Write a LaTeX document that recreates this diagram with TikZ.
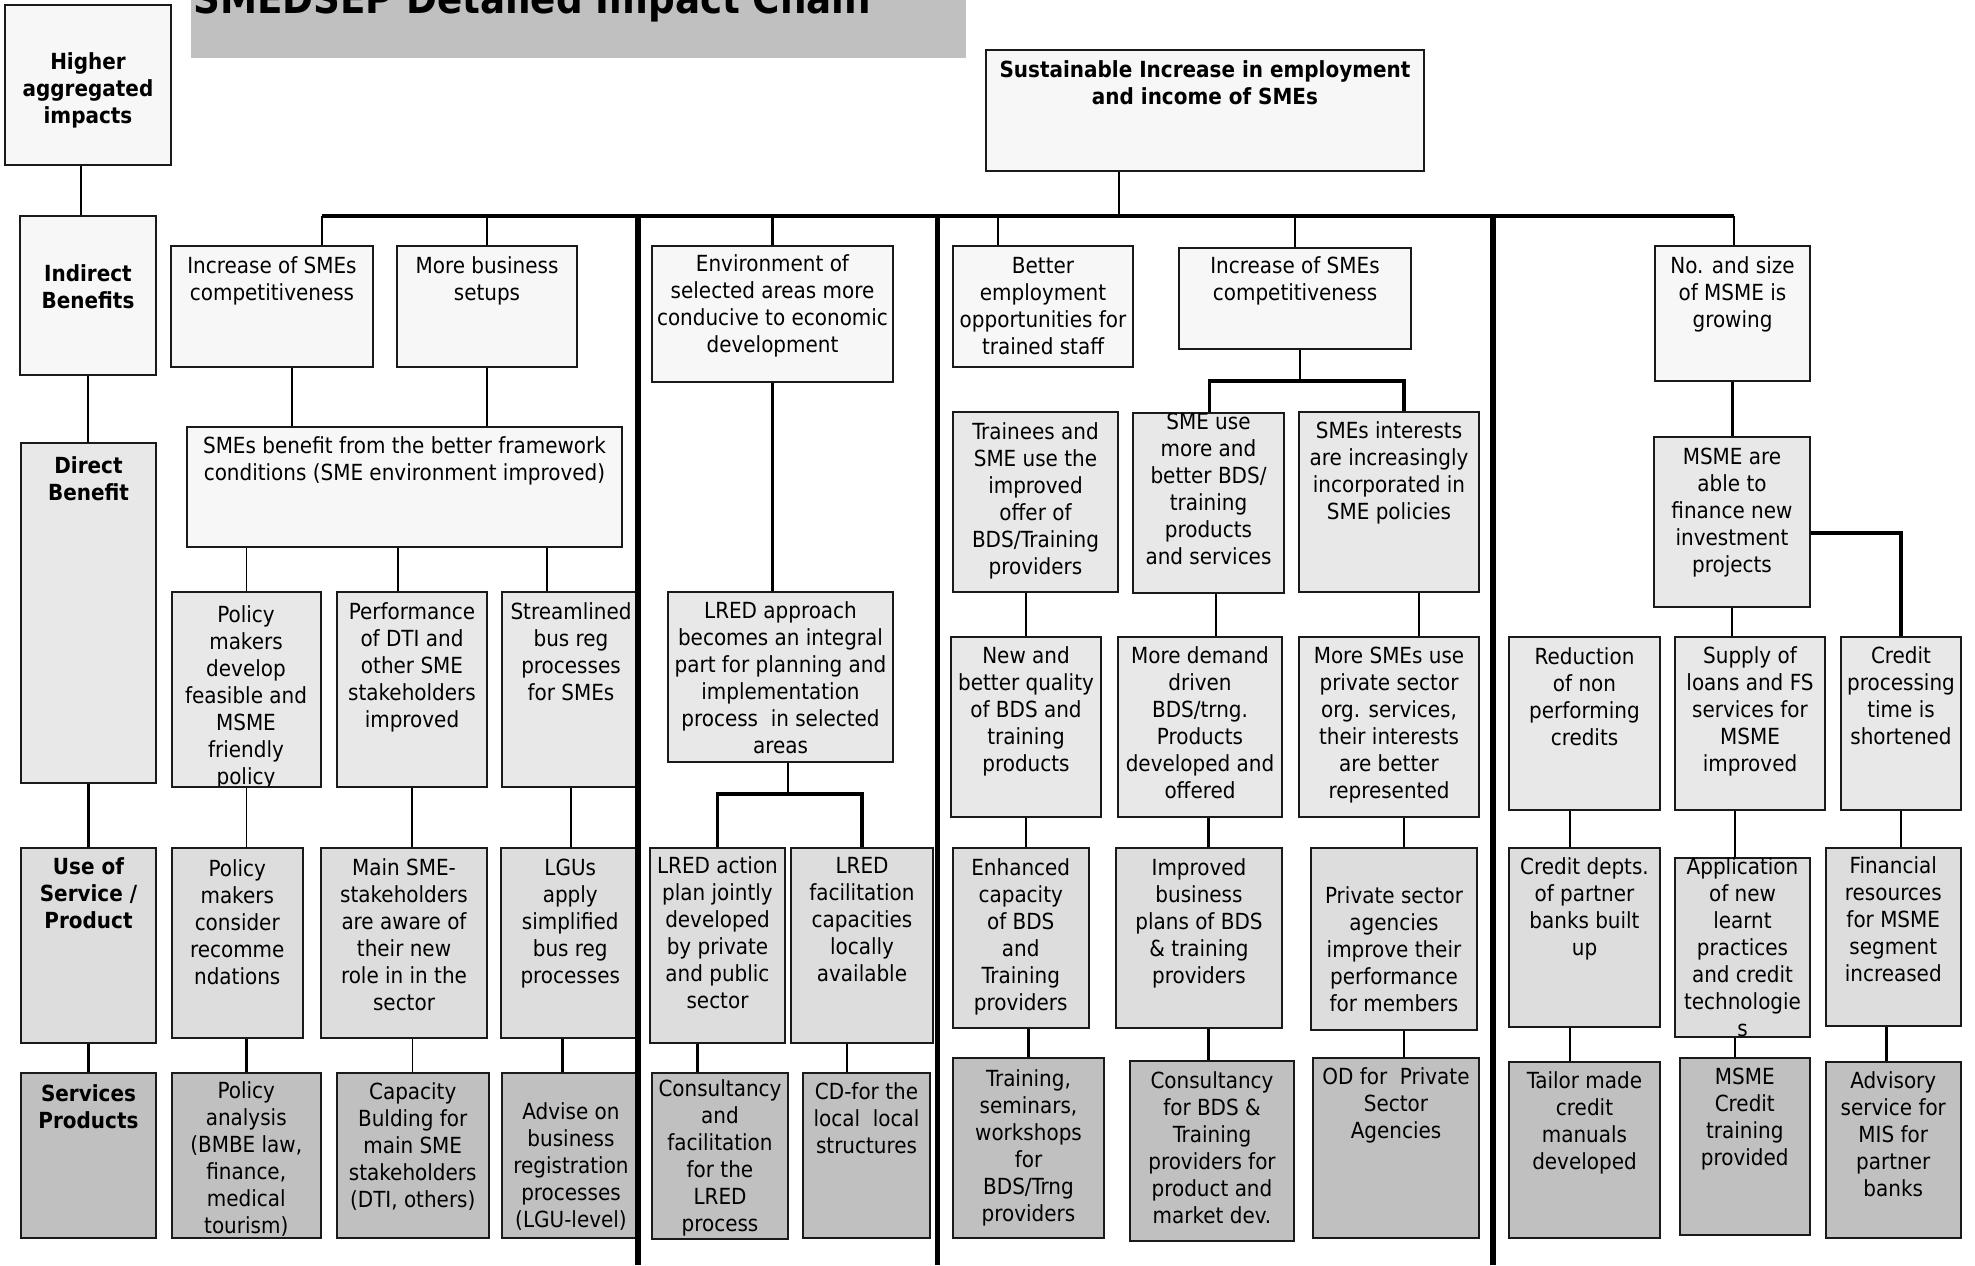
\documentclass[tikz,border=0pt]{standalone}
\usepackage{fontspec}
\setmainfont{DejaVu Sans Condensed}[BoldFont={DejaVu Sans Condensed Bold}]
\usetikzlibrary{fit,backgrounds}

\definecolor{lvA}{HTML}{F7F7F7}
\definecolor{lvB}{HTML}{E8E8E8}
\definecolor{lvC}{HTML}{DDDDDD}
\definecolor{lvD}{HTML}{C0C0C0}
\definecolor{edge}{HTML}{1A1A1A}

\newcommand{\fs}{\fontsize{11.1}{13.5}\selectfont}

% box with top-aligned centred text: name, fill, x1, y1, x2, y2, first-line y, text
\newcommand{\cbox}[8]{%
  \node[box, fill=#2, fit={(#3,#4) (#5,#6)}] (#1) {};
  \node[txt] (#1t) at ({(#3+#5)/2},{#7-10.5}) {#8};}
\newcommand{\labbox}[8]{%
  \node[box, fill=#2, fit={(#3,#4) (#5,#6)}] (#1) {};
  \node[txt, font=\fs\bfseries] (#1t) at ({(#3+#5)/2},{#7-10.5}) {#8};}

\begin{document}
\begin{tikzpicture}[x=0.5pt, y=-0.5pt,
  box/.style={draw=edge, line width=1pt, inner sep=0pt, outer sep=0pt, rectangle},
  txt/.style={anchor=north, align=center, inner sep=0pt, font=\fs, execute at begin node=\strut},
  thk/.style={line width=1.4pt, black},
  thn/.style={line width=0.7pt, black},
  bus/.style={line width=1.7pt, black},
  sep/.style={line width=2.9pt, black}]

\useasboundingbox (0,0) rectangle (1975,1265);
\begin{scope}[on background layer]
  \fill[white] (0,0) rectangle (1975,1265);
\end{scope}

% ---------- title bar ----------
\node[fill=lvD, inner sep=0pt, fit={(191,0) (966,58)}] (ttlbar) {};
\node[anchor=base west, inner sep=0pt, font=\fontsize{20.7}{25}\selectfont\bfseries] (ttl) at (193,13) {SMEDSEP Detailed Impact Chain};

% ---------- level labels ----------
\labbox{hi}{lvA}{5}{5}{171}{165}{63}{Higher\\aggregated\\impacts}
\labbox{ind}{lvA}{20}{216}{156}{375}{275}{Indirect\\Benefits}
\labbox{dir}{lvB}{21}{443}{156}{783}{467}{Direct\\Benefit}
\labbox{use}{lvC}{21}{848}{156}{1043}{868}{Use of\\Service /\\Product}
\labbox{srv}{lvD}{21}{1073}{156}{1238}{1095}{Services\\Products}

% ---------- overall impact ----------
\labbox{sus}{lvA}{986}{50}{1424}{171}{71}{Sustainable Increase in employment\\and income of SMEs}

% ---------- column 1: framework conditions ----------
\cbox{a1}{lvA}{171}{246}{373}{367}{267}{Increase of SMEs\\competitiveness}
\cbox{a2}{lvA}{397}{246}{577}{367}{267}{More business\\setups}
\cbox{b1}{lvA}{187}{427}{622}{547}{447}{SMEs benefit from the better framework\\conditions (SME environment improved)}
\node[box, fill=lvB, fit={(171.5,592) (321,787)}] (c1) {};
\begin{scope}
  \clip (171.5,592) rectangle (321,785);
  \node[txt] (c1t) at (246,605.5) {Policy\\makers\\develop\\feasible and\\MSME\\friendly\\policy};
\end{scope}
\cbox{c2}{lvB}{337}{592}{487}{787}{613}{Performance\\of DTI and\\other SME\\stakeholders\\improved}
\cbox{c3}{lvB}{502}{592}{640}{787}{613}{Streamlined\\bus reg\\processes\\for SMEs}
\cbox{d1}{lvC}{171.5}{848}{303}{1038}{870}{Policy\\makers\\consider\\recomme\\ndations}
\cbox{d2}{lvC}{321}{848}{487}{1038}{869}{Main SME-\\stakeholders\\are aware of\\their new\\role in in the\\sector}
\cbox{d3}{lvC}{500.5}{848}{640}{1038}{869}{LGUs\\apply\\simplified\\bus reg\\processes}
\cbox{e1}{lvD}{171.5}{1073}{321}{1238}{1092}{Policy\\analysis\\(BMBE law,\\finance,\\medical\\tourism)}
\cbox{e2}{lvD}{337}{1073}{488.5}{1238}{1093}{Capacity\\Bulding for\\main SME\\stakeholders\\(DTI, others)}
\cbox{e3}{lvD}{502}{1073}{640}{1238}{1113}{Advise on\\business\\registration\\processes\\(LGU-level)}

% ---------- column 2: LRED ----------
\cbox{f1}{lvA}{652}{246}{893}{382}{265}{Environment of\\selected areas more\\conducive to economic\\development}
\cbox{g1}{lvB}{668}{592}{893}{762}{612}{LRED approach\\becomes an integral\\part for planning and\\implementation\\process\ \ in selected\\areas}
\cbox{h1}{lvC}{650}{848}{785}{1043}{867}{LRED action\\plan jointly\\developed\\by private\\and public\\sector}
\cbox{h2}{lvC}{791}{848}{933}{1043}{867}{LRED\\facilitation\\capacities\\locally\\available}
\cbox{i1}{lvD}{652}{1073}{788}{1239}{1090}{Consultancy\\and\\facilitation\\for the\\LRED\\process}
\cbox{i2}{lvD}{803}{1073}{930}{1238}{1093}{CD-for the\\local\ \ local\\structures}

% ---------- column 3: BDS and training ----------
\cbox{j1}{lvA}{953}{246}{1133}{367}{267}{Better\\employment\\opportunities for\\trained staff}
\cbox{j2}{lvA}{1179}{248}{1411}{349}{267}{Increase of SMEs\\competitiveness}
\cbox{k1}{lvB}{953}{412}{1118}{592}{433}{Trainees and\\SME use the\\improved\\offer of\\BDS/Training\\providers}
\cbox{k2}{lvB}{1133}{413}{1284}{593}{423}{SME use\\more and\\better BDS/\\training\\products\\and services}
\cbox{k3}{lvB}{1299}{412}{1479}{592}{432}{SMEs interests\\are increasingly\\incorporated in\\SME policies}
\cbox{l1}{lvB}{951}{637}{1101}{817}{657}{New and\\better quality\\of BDS and\\training\\products}
\cbox{l2}{lvB}{1118}{637}{1282}{817}{657}{More demand\\driven\\BDS/trng.\\Products\\developed and\\offered}
\cbox{l3}{lvB}{1299}{637}{1479}{817}{657}{More SMEs use\\private sector\\org. services,\\their interests\\are better\\represented}
\cbox{m1}{lvC}{953}{848}{1088.5}{1028}{869}{Enhanced\\capacity\\of BDS\\and\\Training\\providers}
\cbox{m2}{lvC}{1116}{848}{1282}{1028}{869}{Improved\\business\\plans of BDS\\\& training\\providers}
\cbox{m3}{lvC}{1311}{848}{1477}{1030}{897}{Private sector\\agencies\\improve their\\performance\\for members}
\cbox{n1}{lvD}{953}{1058}{1104}{1238}{1080}{Training,\\seminars,\\workshops\\for\\BDS/Trng\\providers}
\cbox{n2}{lvD}{1130}{1061}{1294}{1241}{1082}{Consultancy\\for BDS \&\\Training\\providers for\\product and\\market dev.}
\cbox{n3}{lvD}{1313}{1058}{1479}{1238}{1078}{OD for\ \ Private\\Sector\\Agencies}

% ---------- column 4: finance ----------
\cbox{o1}{lvA}{1655}{246}{1810}{381}{267}{No. and size\\of MSME is\\growing}
\cbox{p1}{lvB}{1654}{437}{1810}{607}{458}{MSME are\\able to\\finance new\\investment\\projects}
\cbox{q1}{lvB}{1509}{637}{1660}{810}{658}{Reduction\\of non\\performing\\credits}
\cbox{q2}{lvB}{1675}{637}{1825}{810}{657}{Supply of\\loans and FS\\services for\\MSME\\improved}
\cbox{q3}{lvB}{1841}{637}{1961}{810}{657}{Credit\\processing\\time is\\shortened}
\cbox{r1}{lvC}{1509}{848}{1660}{1027}{868}{Credit depts.\\of partner\\banks built\\up}
\cbox{r2}{lvC}{1675}{858}{1810}{1037}{868}{Application\\of new\\learnt\\practices\\and credit\\technologie\\s}
\cbox{r3}{lvC}{1825.5}{848}{1961}{1026}{867}{Financial\\resources\\for MSME\\segment\\increased}
\cbox{s1}{lvD}{1509}{1062}{1660}{1238}{1082}{Tailor made\\credit\\manuals\\developed}
\cbox{s2}{lvD}{1679.5}{1058}{1810}{1235}{1078}{MSME\\Credit\\training\\provided}
\cbox{s3}{lvD}{1825.5}{1062}{1961}{1238}{1082}{Advisory\\service for\\MIS for\\partner\\banks}

% ---------- connectors ----------
\coordinate (busL) at (322,216);
\coordinate (busR) at (1734,216);
\coordinate (lredsplit) at (788,794);
\coordinate (bdssplit) at (1300,381);
\begin{scope}[on background layer]
  % level labels
  \draw[thn] ([xshift=-3.5pt]hi.south) -- ([xshift=-3.5pt]hi.south |- ind.north);
  \draw[thk] (ind.south) -- (ind.south |- dir.north);
  \draw[thk] (dir.south) -- (dir.south |- use.north);
  \draw[thk] (use.south) -- (use.south |- srv.north);
  % main bus
  \draw[bus] (busL) -- (busR);
  \draw[thk] ([xshift=-43pt]sus.south) -- ([xshift=-43pt]sus.south |- busL);
  \draw[thk] (busL) -- (busL |- a1.north);
  \draw[thn] (a2.north) -- (a2.north |- busL);
  \draw[thk] (f1.north) -- (f1.north |- busL);
  \draw[thk] ([xshift=-22.5pt]j1.north) -- ([xshift=-22.5pt]j1.north |- busL);
  \draw[thk] (j2.north) -- (j2.north |- busL);
  \draw[thk] (busR) -- (busR |- o1.north);
  % column 1
  \draw[thk] ([xshift=10pt]a1.south) -- ([xshift=10pt]a1.south |- b1.north);
  \draw[thn] (a2.south) -- (a2.south |- b1.north);
  \draw[thn] (c1.north) -- (c1.north |- b1.south);
  \draw[thn] ([xshift=-7pt]c2.north) -- ([xshift=-7pt]c2.north |- b1.south);
  \draw[thn] ([xshift=-12pt]c3.north) -- ([xshift=-12pt]c3.north |- b1.south);
  \draw[thn] (c1.south) -- (c1.south |- d1.north);
  \draw[thn] (c2.south) -- (c2.south |- d2.north);
  \draw[thn] (c3.south) -- (c3.south |- d3.north);
  \draw[thk] (e1.north) -- (e1.north |- d1.south);
  \draw[thn] (e2.north) -- (e2.north |- d2.south);
  \draw[thk] ([xshift=-4pt]d3.south) -- ([xshift=-4pt]d3.south |- e3.north);
  % column 2
  \draw[thk] (f1.south) -- (f1.south |- g1.north);
  \draw[thk] (g1.south -| lredsplit) -- (lredsplit);
  \draw[bus] (h1.north) |- (lredsplit) -| (h2.north);
  \draw[thk] ([xshift=-10pt]h1.south) -- ([xshift=-10pt]h1.south |- i1.north);
  \draw[thk] ([xshift=-7.5pt]h2.south) -- ([xshift=-7.5pt]h2.south |- i2.north);
  % column 3
  \draw[thk] (j2.south -| bdssplit) -- (bdssplit);
  \draw[bus] ([xshift=0.5pt]k2.north) |- (bdssplit) -| ([xshift=7.5pt]k3.north);
  \draw[thk] (l1.north) -- (l1.north |- k1.south);
  \draw[thk] ([xshift=3.75pt]k2.south) -- ([xshift=3.75pt]k2.south |- l2.north);
  \draw[thk] ([xshift=15pt]k3.south) -- ([xshift=15pt]k3.south |- l3.north);
  \draw[thk] (l1.south) -- (l1.south |- m1.north);
  \draw[thk] ([xshift=4.25pt]l2.south) -- ([xshift=4.25pt]l2.south |- m2.north);
  \draw[thk] ([xshift=7.5pt]l3.south) -- ([xshift=7.5pt]l3.south |- m3.north);
  \draw[thk] (n1.north) -- (n1.north |- m1.south);
  \draw[thk] ([xshift=-1.75pt]n2.north) -- ([xshift=-1.75pt]n2.north |- m2.south);
  \draw[thk] ([xshift=4pt]n3.north) -- ([xshift=4pt]n3.north |- m3.south);
  % column 4
  \draw[thk] (o1.south) -- (o1.south |- p1.north);
  \draw[thk] (p1.south) -- (p1.south |- q2.north);
  \draw[bus] ([yshift=-5.5pt]p1.east) -| (q3.north);
  \draw[thk] ([xshift=-7.25pt]q1.south) -- ([xshift=-7.25pt]q1.south |- r1.north);
  \draw[thk] ([xshift=-7.5pt]q2.south) -- ([xshift=-7.5pt]q2.south |- r2.north);
  \draw[thk] (q3.south) -- (q3.south |- r3.north);
  \draw[thk] ([xshift=-7.25pt]r1.south) -- ([xshift=-7.25pt]r1.south |- s1.north);
  \draw[thk] ([xshift=-3.75pt]r2.south) -- ([xshift=-3.75pt]r2.south |- s2.north);
  \draw[thk] ([xshift=-3.5pt]r3.south) -- ([xshift=-3.5pt]r3.south |- s3.north);
\end{scope}

% ---------- column dividers ----------
\draw[sep] (638,216) -- (638,1265);
\draw[sep] (937.5,216) -- (937.5,1265);
\draw[sep] (1493,216) -- (1493,1265);

\end{tikzpicture}
\end{document}
